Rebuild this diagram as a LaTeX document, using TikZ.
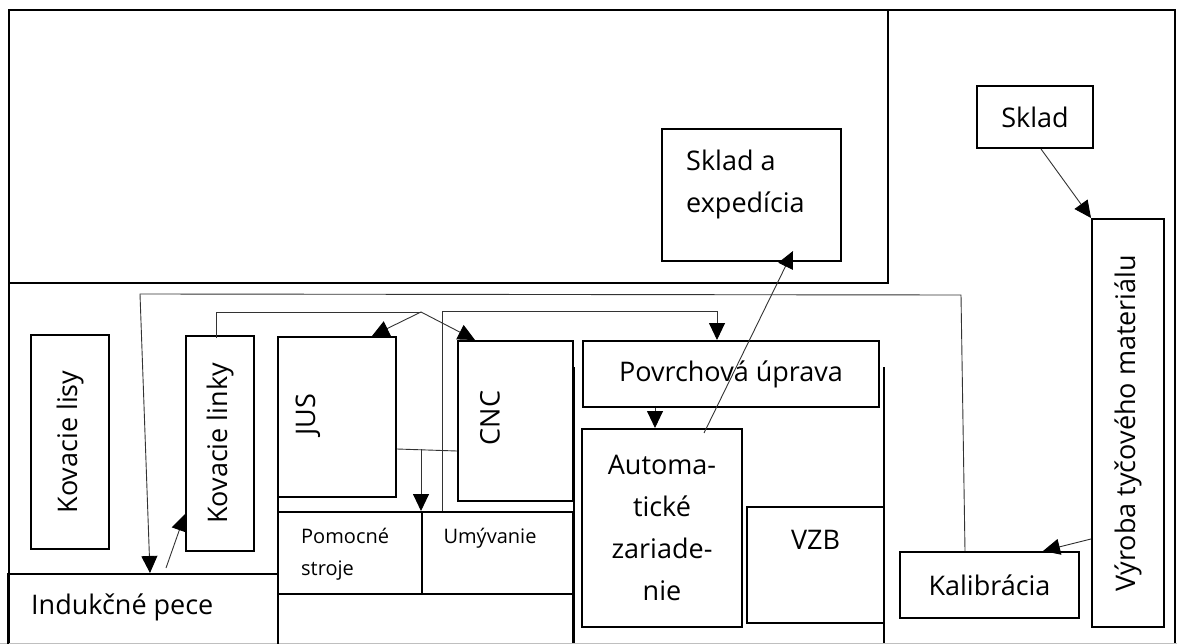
\documentclass[tikz,border=0pt]{standalone}
\usepackage{fontspec}
\setmainfont{Open Sans}
\usepackage{graphicx}
\usetikzlibrary{arrows.meta,calc}

\begin{document}
\begin{tikzpicture}[x=1pt,y=-1pt,
  txt/.style={font=\fontsize{27}{42}\selectfont,align=center},
  small/.style={font=\fontsize{20}{32}\selectfont,align=left},
  box/.style={txt,draw=black,line width=2pt},
  flow/.style={draw=black!80,line width=0.9pt,-{Triangle[length=17pt,width=16pt,color=black]}},
  link/.style={draw=black!80,line width=0.9pt},
  wall/.style={draw=black,line width=1.8pt}]
\tikzstyle{every node}+=[inner sep=0pt]
\useasboundingbox (0,0) rectangle (1177,644);
\clip (0,0) rectangle (1177,644);
\fill [white] (0,0) rectangle (1177,644);
\draw [wall] (9,10) rectangle (1175,700);
\draw [wall] (9,10) rectangle (888,283);
\draw [wall] (574,367) -- (574,700);
\draw [wall] (884,367) -- (884,700);
\draw [wall] (278,497) -- (278,700);
\draw [wall] (278,594) rectangle (573,700);
\draw [black!25,line width=0.8pt] (0,643.5) -- (1177,643.5);
\node [box,minimum width=116,minimum height=62] (sklad) at (1035,117) {Sklad};
\node [box,minimum width=72,minimum height=408] (vyroba) at (1128,423) {\rotatebox{90}{Výroba tyčového materiálu}};
\node [box,minimum width=179,minimum height=66] (kalib) at (989.5,585) {Kalibrácia};
\node [box,minimum width=179,minimum height=132] (sklexp) at (751.5,195) {};
\node [txt,align=left,anchor=west] (sklexptext) at ([shift={(25,-11)}]sklexp.west) {Sklad a\\expedícia};
\node [box,minimum width=296,minimum height=66] (povrch) at (731,374) {Povrchová úprava};
\node [box,minimum width=160,minimum height=198] (autom) at (662,528) {Automa-\\tické\\zariade-\\nie};
\node [box,minimum width=137,minimum height=116] (vzb) at (815.5,565) {};
\node [txt] (vzbtext) at ([shift={(0,-25)}]vzb.center) {VZB};
\node [box,minimum width=115,minimum height=160] (cnc) at (515.5,421) {};
\node [txt] (cnctext) at ([shift={(-25.5,-3)}]cnc.center) {\rotatebox{90}{CNC}};
\node [box,minimum width=118,minimum height=160] (jus) at (337,417) {};
\node [txt] (justext) at ([shift={(-29,-2)}]jus.center) {\rotatebox{90}{JUS}};
\node [box,minimum width=144,minimum height=82] (pomoc) at (350,553) {};
\node [small,anchor=west] (pomoctext) at ([shift={(24,1)}]pomoc.west) {Pomocné\\stroje};
\node [box,minimum width=151,minimum height=82] (umyv) at (497.5,553) {};
\node [small] (umyvtext) at ([shift={(-7.5,-15)}]umyv.center) {Umývanie};
\node [box,minimum width=78,minimum height=214] (kovlisy) at (70,442) {\rotatebox{90}{Kovacie lisy}};
\node [box,minimum width=68,minimum height=215] (kovlinky) at (220,443.5) {\rotatebox{90}{Kovacie linky}};
\node [box,minimum width=270,minimum height=90] (indukc) at (143,619) {};
\node [txt,anchor=west] (indukctext) at ([shift={(24,-12)}]indukc.west) {Indukčné pece};
\draw [flow] ([shift={(6,0)}]sklad.south) -- (vyroba.north west);
\draw [flow] ([shift={(0,116)}]vyroba.west) -- ([shift={(53.5,0)}]kalib.north);
\draw [flow] ([shift={(-24.5,0)}]kalib.north) -- (961,295) -- (140,294) -- ([shift={(143,0)}]indukc.north west);
\draw [flow] ([shift={(159,-5)}]indukc.north west) -- ([shift={(0,70.5)}]kovlinky.west);
\draw [link] ([shift={(-4,3)}]kovlinky.north) -- ++(0,-26) -- (421,312) coordinate (split);
\draw [flow] (split) -- ([shift={(35,0)}]jus.north);
\draw [flow] (split) -- ([shift={(-40.5,0)}]cnc.north);
\draw [link] ([shift={(0,32)}]jus.east) -- ([shift={(0,30)}]cnc.west);
\draw [flow] ([shift={(0,-62)}]umyv.north west) -- (umyv.north west);
\draw [flow] ([shift={(21,0)}]umyv.north west) -- ++(0,-200) -| ([shift={(-14,0)}]povrch.north);
\draw [flow] ([shift={(-76,0)}]povrch.south) -- ([shift={(-7,0)}]autom.north);
\draw [flow] ([shift={(42,5)}]autom.north) -- ([shift={(41.5,-11)}]sklexp.south);
\end{tikzpicture}
\end{document}
